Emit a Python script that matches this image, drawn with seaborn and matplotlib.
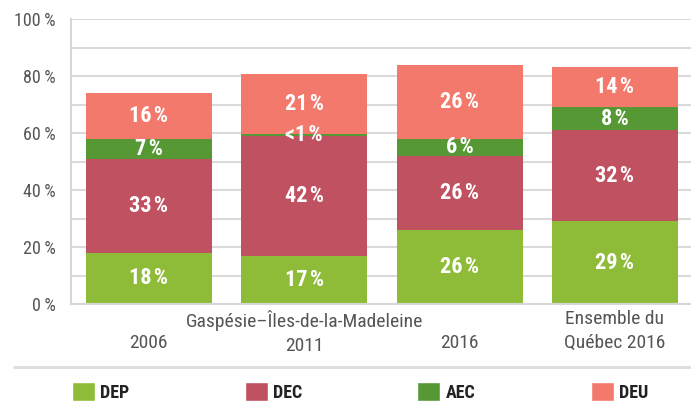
import matplotlib
matplotlib.use("Agg")
import matplotlib.pyplot as plt
import seaborn as sns
import pandas as pd
from matplotlib.patches import Patch
from matplotlib.lines import Line2D

# categories (line breaks as in the original axis labels)
groupes = ["\n2006", "Gaspésie–Îles-de-la-Madeleine\n2011", "\n2016", "Ensemble du\nQuébec 2016"]
niveaux = ["DEP", "DEC", "AEC", "DEU"]

# shares in %
dep = [18, 17, 26, 29]
dec = [33, 42, 26, 32]
aec = [7, 0.6, 6, 8]
deu = [16, 21, 26, 14]

couleurs = {"DEP": "#8fbc38", "DEC": "#c05161", "AEC": "#569934", "DEU": "#f2796b"}

df = pd.DataFrame({"groupe": groupes, "DEP": dep, "DEC": dec, "AEC": aec, "DEU": deu})
cumul = df[niveaux].cumsum(axis=1)
cumul["groupe"] = groupes

sns.set_theme(style="white")
plt.rcParams["font.family"] = ["Roboto Condensed", "Liberation Sans", "DejaVu Sans"]

fig = plt.figure(figsize=(6.91, 4.03), dpi=100)
ax = fig.add_axes([71 / 691, 99 / 403, 621.7 / 691, 285 / 403])

# stacked bars: draw cumulative totals from the top layer down
for niv in reversed(niveaux):
    sns.barplot(data=cumul, x="groupe", y=niv, order=groupes, color=couleurs[niv],
                saturation=1, width=0.81, errorbar=None, linewidth=0, ax=ax)

for niv in niveaux:
    for i in range(len(groupes)):
        v = df[niv][i]
        centre = cumul[niv][i] - v / 2
        txt = f"{v:.0f}\u200a%" if v >= 1 else "<1\u200a%"
        ax.text(i, centre, txt, ha="center", va="center", color="white",
                fontsize=16, fontweight="bold")

ax.set_xlim(-0.5, 3.5)
ax.set_ylim(0, 100)
ax.set_xlabel("")
ax.set_ylabel("")

ax.set_yticks(range(0, 101, 20))
ax.set_yticklabels([f"{v}\u2009%" for v in range(0, 101, 20)])
ax.set_yticks(range(10, 100, 20), minor=True)
ax.grid(which="both", axis="y", color="#dadada", linewidth=1.5)
ax.set_axisbelow(True)
ax.tick_params(axis="y", which="both", length=0, pad=11, labelsize=13, labelcolor="#555555")

ax.set_xticks(range(len(groupes)))
ax.set_xticklabels(groupes, linespacing=1.45)
ax.set_xticks([0.5, 1.5, 2.5], minor=True)
ax.tick_params(axis="x", which="major", length=0, pad=4, labelsize=14, labelcolor="#555555")
ax.tick_params(axis="x", which="minor", direction="in", length=7, width=2, color="#d6d6d6")

sns.despine(ax=ax)
for s in ["left", "bottom"]:
    ax.spines[s].set_color("#d6d6d6")
    ax.spines[s].set_linewidth(1.5)

fig.add_artist(Line2D([14 / 691, 1], [36.5 / 403] * 2, transform=fig.transFigure,
                      color="#dddddd", linewidth=2))

handles = [Patch(facecolor=couleurs[n], label=n) for n in niveaux]
fs = 13 * 100 / 72
fig.legend(handles=handles, loc="center left", bbox_to_anchor=(72 / 691, 11 / 403), ncol=4,
           frameon=False, borderpad=0, borderaxespad=0,
           handlelength=23 / fs, handleheight=22 / fs, handletextpad=5 / fs,
           columnspacing=115.5 / fs, labelcolor="#222222",
           prop=dict(weight="bold", size=13))

fig.savefig("out.png", dpi=100)
